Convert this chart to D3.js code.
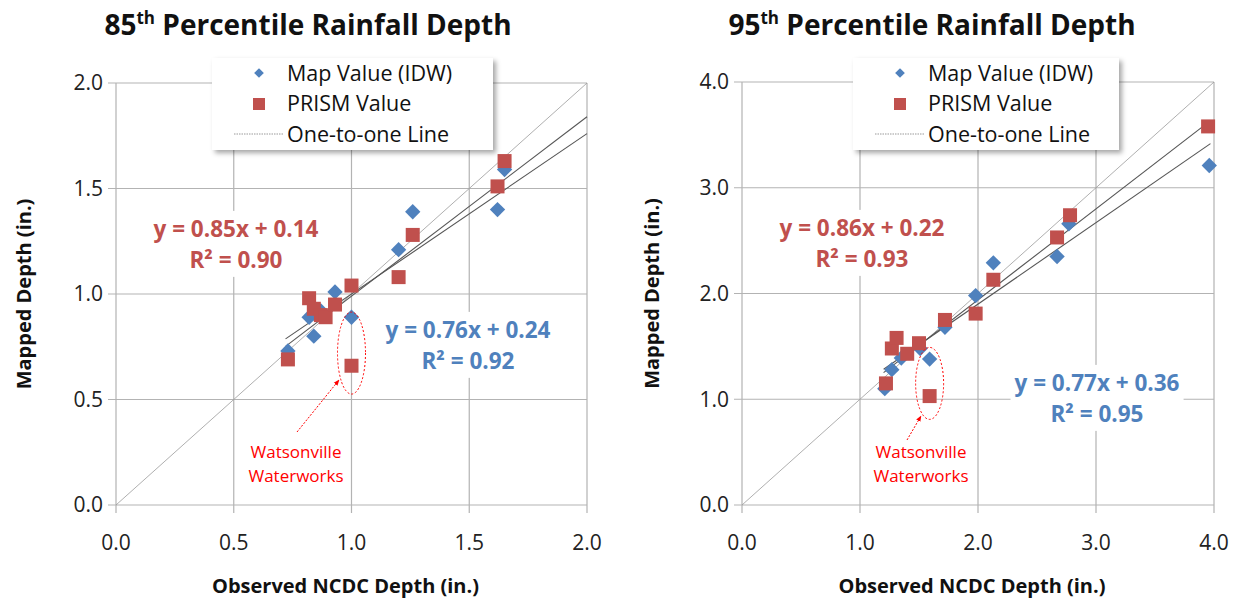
<!DOCTYPE html>
<html>
<head>
<meta charset="utf-8">
<script src="https://cdn.jsdelivr.net/npm/d3@7/dist/d3.min.js"></script>
<style>
  body { margin: 0; background: #fff; }
  text { font-family: "Open Sans", "Noto Sans", sans-serif; }
</style>
</head>
<body>
<script>
// ---- data ----
// 85th percentile: [observed NCDC, mapped]
var idw85 = [[0.73,0.73],[0.82,0.89],[0.84,0.80],[0.87,0.92],[0.93,1.01],[1.00,0.89],
             [1.20,1.21],[1.26,1.39],[1.62,1.40],[1.65,1.59]];
var prism85 = [[0.73,0.69],[0.82,0.98],[0.84,0.93],[0.87,0.90],[0.89,0.89],[0.93,0.95],
               [1.00,1.04],[1.00,0.66],[1.20,1.08],[1.26,1.28],[1.62,1.51],[1.65,1.63]];
// 95th percentile
var idw95 = [[1.21,1.10],[1.27,1.28],[1.35,1.39],[1.51,1.48],[1.59,1.38],[1.72,1.68],
             [1.98,1.98],[2.13,2.29],[2.67,2.35],[2.77,2.66],[3.96,3.21]];
var prism95 = [[1.22,1.15],[1.27,1.48],[1.31,1.58],[1.40,1.43],[1.50,1.53],[1.59,1.03],
               [1.72,1.75],[1.98,1.81],[2.13,2.13],[2.67,2.53],[2.78,2.74],[3.95,3.58]];

var ticks85 = [0, 0.5, 1.0, 1.5, 2.0];
var ticks95 = [0, 1.0, 2.0, 3.0, 4.0];

// trend lines: [slope, intercept], drawn over fitRange
var fitPrism85 = [0.85, 0.14], fitIdw85 = [0.76, 0.24], fitRange85 = [0.72, 2.0];
var fitPrism95 = [0.86, 0.22], fitIdw95 = [0.77, 0.36], fitRange95 = [1.2, 3.97];

var r2Prism85 = "0.90", r2Idw85 = "0.92";
var r2Prism95 = "0.93", r2Idw95 = "0.95";

// Watsonville Waterworks outlier (center of ellipse, data units)
var outlier85 = [1.0, 0.72];
var outlier95 = [1.59, 1.15];

var legendLabels = ["Map Value (IDW)", "PRISM Value", "One-to-one Line"];

var blue = "#4f81bd", red = "#c0504d", grid = "#b3b3b3";

var svg = d3.select("body").append("svg")
    .attr("width", 1239)
    .attr("height", 600);

var defs = svg.append("defs");
var shadow = defs.append("filter").attr("id", "shadow")
    .attr("x", "-10%").attr("y", "-10%").attr("width", "130%").attr("height", "140%");
shadow.append("feDropShadow")
    .attr("dx", 3).attr("dy", 3).attr("stdDeviation", 2.5)
    .attr("flood-color", "#000").attr("flood-opacity", 0.35);
defs.append("marker").attr("id", "arrow")
    .attr("viewBox", "0 0 10 10").attr("refX", 9).attr("refY", 5)
    .attr("markerWidth", 6).attr("markerHeight", 6).attr("orient", "auto")
  .append("path").attr("d", "M0,1 L10,5 L0,9 z").attr("fill", "#ff0000");

var charts = [
  { pct: "85", left: 116, right: 587, top: 83, bottom: 505, max: 2.0, ticks: ticks85,
    fmt: d3.format(".1f"), idw: idw85, prism: prism85,
    fitP: fitPrism85, fitI: fitIdw85, range: fitRange85, r2P: r2Prism85, r2I: r2Idw85,
    outlier: outlier85, orx: 14, ory: 41,
    eqP: [236, 229], eqI: [468, 330],
    legend: [212, 58, 281, 92], note: [296, 452], arrowFrom: [297, 432], arrowTo: [339, 380],
    titleX: 308, ylabX: 24, xlabY: 586 },
  { pct: "95", left: 742, right: 1214, top: 82, bottom: 505, max: 4.0, ticks: ticks95,
    fmt: d3.format(".1f"), idw: idw95, prism: prism95,
    fitP: fitPrism95, fitI: fitIdw95, range: fitRange95, r2P: r2Prism95, r2I: r2Idw95,
    outlier: outlier95, orx: 14, ory: 36,
    eqP: [862, 228], eqI: [1097, 383],
    legend: [853, 58, 266, 92], note: [921, 452], arrowFrom: [907, 440], arrowTo: [921, 416],
    titleX: 932, ylabX: 652, xlabY: 586 }
];

charts.forEach(function(c) {
  var x = d3.scaleLinear().domain([0, c.max]).range([c.left, c.right]);
  var y = d3.scaleLinear().domain([0, c.max]).range([c.bottom, c.top]);
  var g = svg.append("g");

  // gridlines with small tick overhangs
  g.selectAll(".vgrid").data(c.ticks).enter().append("line")
      .attr("x1", function(d) { return x(d); }).attr("x2", function(d) { return x(d); })
      .attr("y1", c.top).attr("y2", c.bottom + 8)
      .attr("stroke", grid).attr("stroke-width", 1.2);
  g.selectAll(".hgrid").data(c.ticks).enter().append("line")
      .attr("y1", function(d) { return y(d); }).attr("y2", function(d) { return y(d); })
      .attr("x1", c.left - 8).attr("x2", c.right)
      .attr("stroke", grid).attr("stroke-width", 1.2);

  // tick labels
  g.selectAll(".ylab").data(c.ticks).enter().append("text")
      .attr("x", c.left - 13).attr("y", function(d) { return y(d); })
      .attr("dy", "0.35em").attr("text-anchor", "end")
      .attr("font-size", 21).attr("fill", "#222")
      .text(c.fmt);
  g.selectAll(".xlab").data(c.ticks).enter().append("text")
      .attr("x", function(d) { return x(d); }).attr("y", c.bottom + 38)
      .attr("dy", "0.35em").attr("text-anchor", "middle")
      .attr("font-size", 21).attr("fill", "#222")
      .text(c.fmt);

  // one-to-one line
  g.append("line")
      .attr("x1", x(0)).attr("y1", y(0)).attr("x2", x(c.max)).attr("y2", y(c.max))
      .attr("stroke", "#9a9a9a").attr("stroke-width", 0.8);

  // trend lines
  [c.fitP, c.fitI].forEach(function(f) {
    g.append("line")
        .attr("x1", x(c.range[0])).attr("y1", y(f[0] * c.range[0] + f[1]))
        .attr("x2", x(c.range[1])).attr("y2", y(f[0] * c.range[1] + f[1]))
        .attr("stroke", "#555").attr("stroke-width", 1.1);
  });

  // equation labels with white backing
  function eq(pos, fit, r2, col) {
    var t = g.append("text").attr("text-anchor", "middle")
        .attr("font-size", 22.5).attr("font-weight", "bold").attr("fill", col);
    t.append("tspan").attr("x", pos[0]).attr("y", pos[1]).attr("dy", "0.35em")
        .text("y = " + fit[0].toFixed(2) + "x + " + fit[1].toFixed(2));
    t.append("tspan").attr("x", pos[0]).attr("y", pos[1] + 31).attr("dy", "0.35em")
        .text("R\u00b2 = " + r2);
    var b = t.node().getBBox();
    g.insert("rect", function() { return t.node(); })
        .attr("x", b.x - 4).attr("y", b.y - 2).attr("width", b.width + 8).attr("height", b.height + 4)
        .attr("fill", "#fff");
  }
  eq(c.eqP, c.fitP, c.r2P, red);
  eq(c.eqI, c.fitI, c.r2I, blue);

  // points
  g.selectAll(".idw").data(c.idw).enter().append("path")
      .attr("d", d3.symbol().type(d3.symbolDiamond2).size(150))
      .attr("transform", function(d) { return "translate(" + x(d[0]) + "," + y(d[1]) + ")"; })
      .attr("fill", blue);
  g.selectAll(".prism").data(c.prism).enter().append("rect")
      .attr("x", function(d) { return x(d[0]) - 7; })
      .attr("y", function(d) { return y(d[1]) - 7; })
      .attr("width", 14).attr("height", 14)
      .attr("fill", red);

  // Watsonville Waterworks annotation
  g.append("ellipse")
      .attr("cx", x(c.outlier[0])).attr("cy", y(c.outlier[1]))
      .attr("rx", c.orx).attr("ry", c.ory)
      .attr("fill", "none").attr("stroke", "#ff0000").attr("stroke-width", 1)
      .attr("stroke-dasharray", "2,2");
  g.append("line")
      .attr("x1", c.arrowFrom[0]).attr("y1", c.arrowFrom[1])
      .attr("x2", c.arrowTo[0]).attr("y2", c.arrowTo[1])
      .attr("stroke", "#ff0000").attr("stroke-width", 1)
      .attr("stroke-dasharray", "2,1.5").attr("marker-end", "url(#arrow)");
  var note = g.append("text").attr("text-anchor", "middle")
      .attr("font-size", 17).attr("fill", "#ff0000");
  note.append("tspan").attr("x", c.note[0]).attr("y", c.note[1]).attr("dy", "0.35em").text("Watsonville");
  note.append("tspan").attr("x", c.note[0]).attr("y", c.note[1] + 24).attr("dy", "0.35em").text("Waterworks");

  // legend
  var L = c.legend;
  var lg = g.append("g").attr("transform", "translate(" + L[0] + "," + L[1] + ")");
  lg.append("rect").attr("width", L[2]).attr("height", L[3])
      .attr("fill", "#fff").attr("filter", "url(#shadow)");
  lg.append("path")
      .attr("d", d3.symbol().type(d3.symbolDiamond2).size(60))
      .attr("transform", "translate(47,15)").attr("fill", blue);
  lg.append("rect").attr("x", 41).attr("y", 40).attr("width", 12).attr("height", 12).attr("fill", red);
  lg.append("line").attr("x1", 22).attr("x2", 72).attr("y1", 76).attr("y2", 76)
      .attr("stroke", "#999").attr("stroke-width", 1).attr("stroke-dasharray", "1.5,1");
  lg.selectAll(".lt").data(legendLabels).enter().append("text")
      .attr("x", 75).attr("y", function(d, i) { return 15 + i * 30.5; })
      .attr("dy", "0.35em").attr("font-size", 21.5).attr("fill", "#111")
      .text(function(d) { return d; });

  // title
  var title = svg.append("text").attr("x", c.titleX).attr("y", 35)
      .attr("text-anchor", "middle").attr("font-size", 28).attr("font-weight", "bold")
      .attr("fill", "#111");
  title.append("tspan").text(c.pct);
  title.append("tspan").attr("font-size", 17).attr("dy", -11).text("th");
  title.append("tspan").attr("dy", 11).text(" Percentile Rainfall Depth");

  // axis titles
  svg.append("text")
      .attr("transform", "translate(" + c.ylabX + "," + ((c.top + c.bottom) / 2) + ") rotate(-90)")
      .attr("text-anchor", "middle").attr("dy", "0.35em")
      .attr("font-size", 20).attr("font-weight", "bold").attr("fill", "#111")
      .text("Mapped Depth (in.)");
  svg.append("text")
      .attr("x", (c.left + c.right) / 2 - 6).attr("y", c.xlabY)
      .attr("text-anchor", "middle").attr("dy", "0.35em")
      .attr("font-size", 20).attr("font-weight", "bold").attr("fill", "#111")
      .text("Observed NCDC Depth (in.)");
});
</script>
</body>
</html>
